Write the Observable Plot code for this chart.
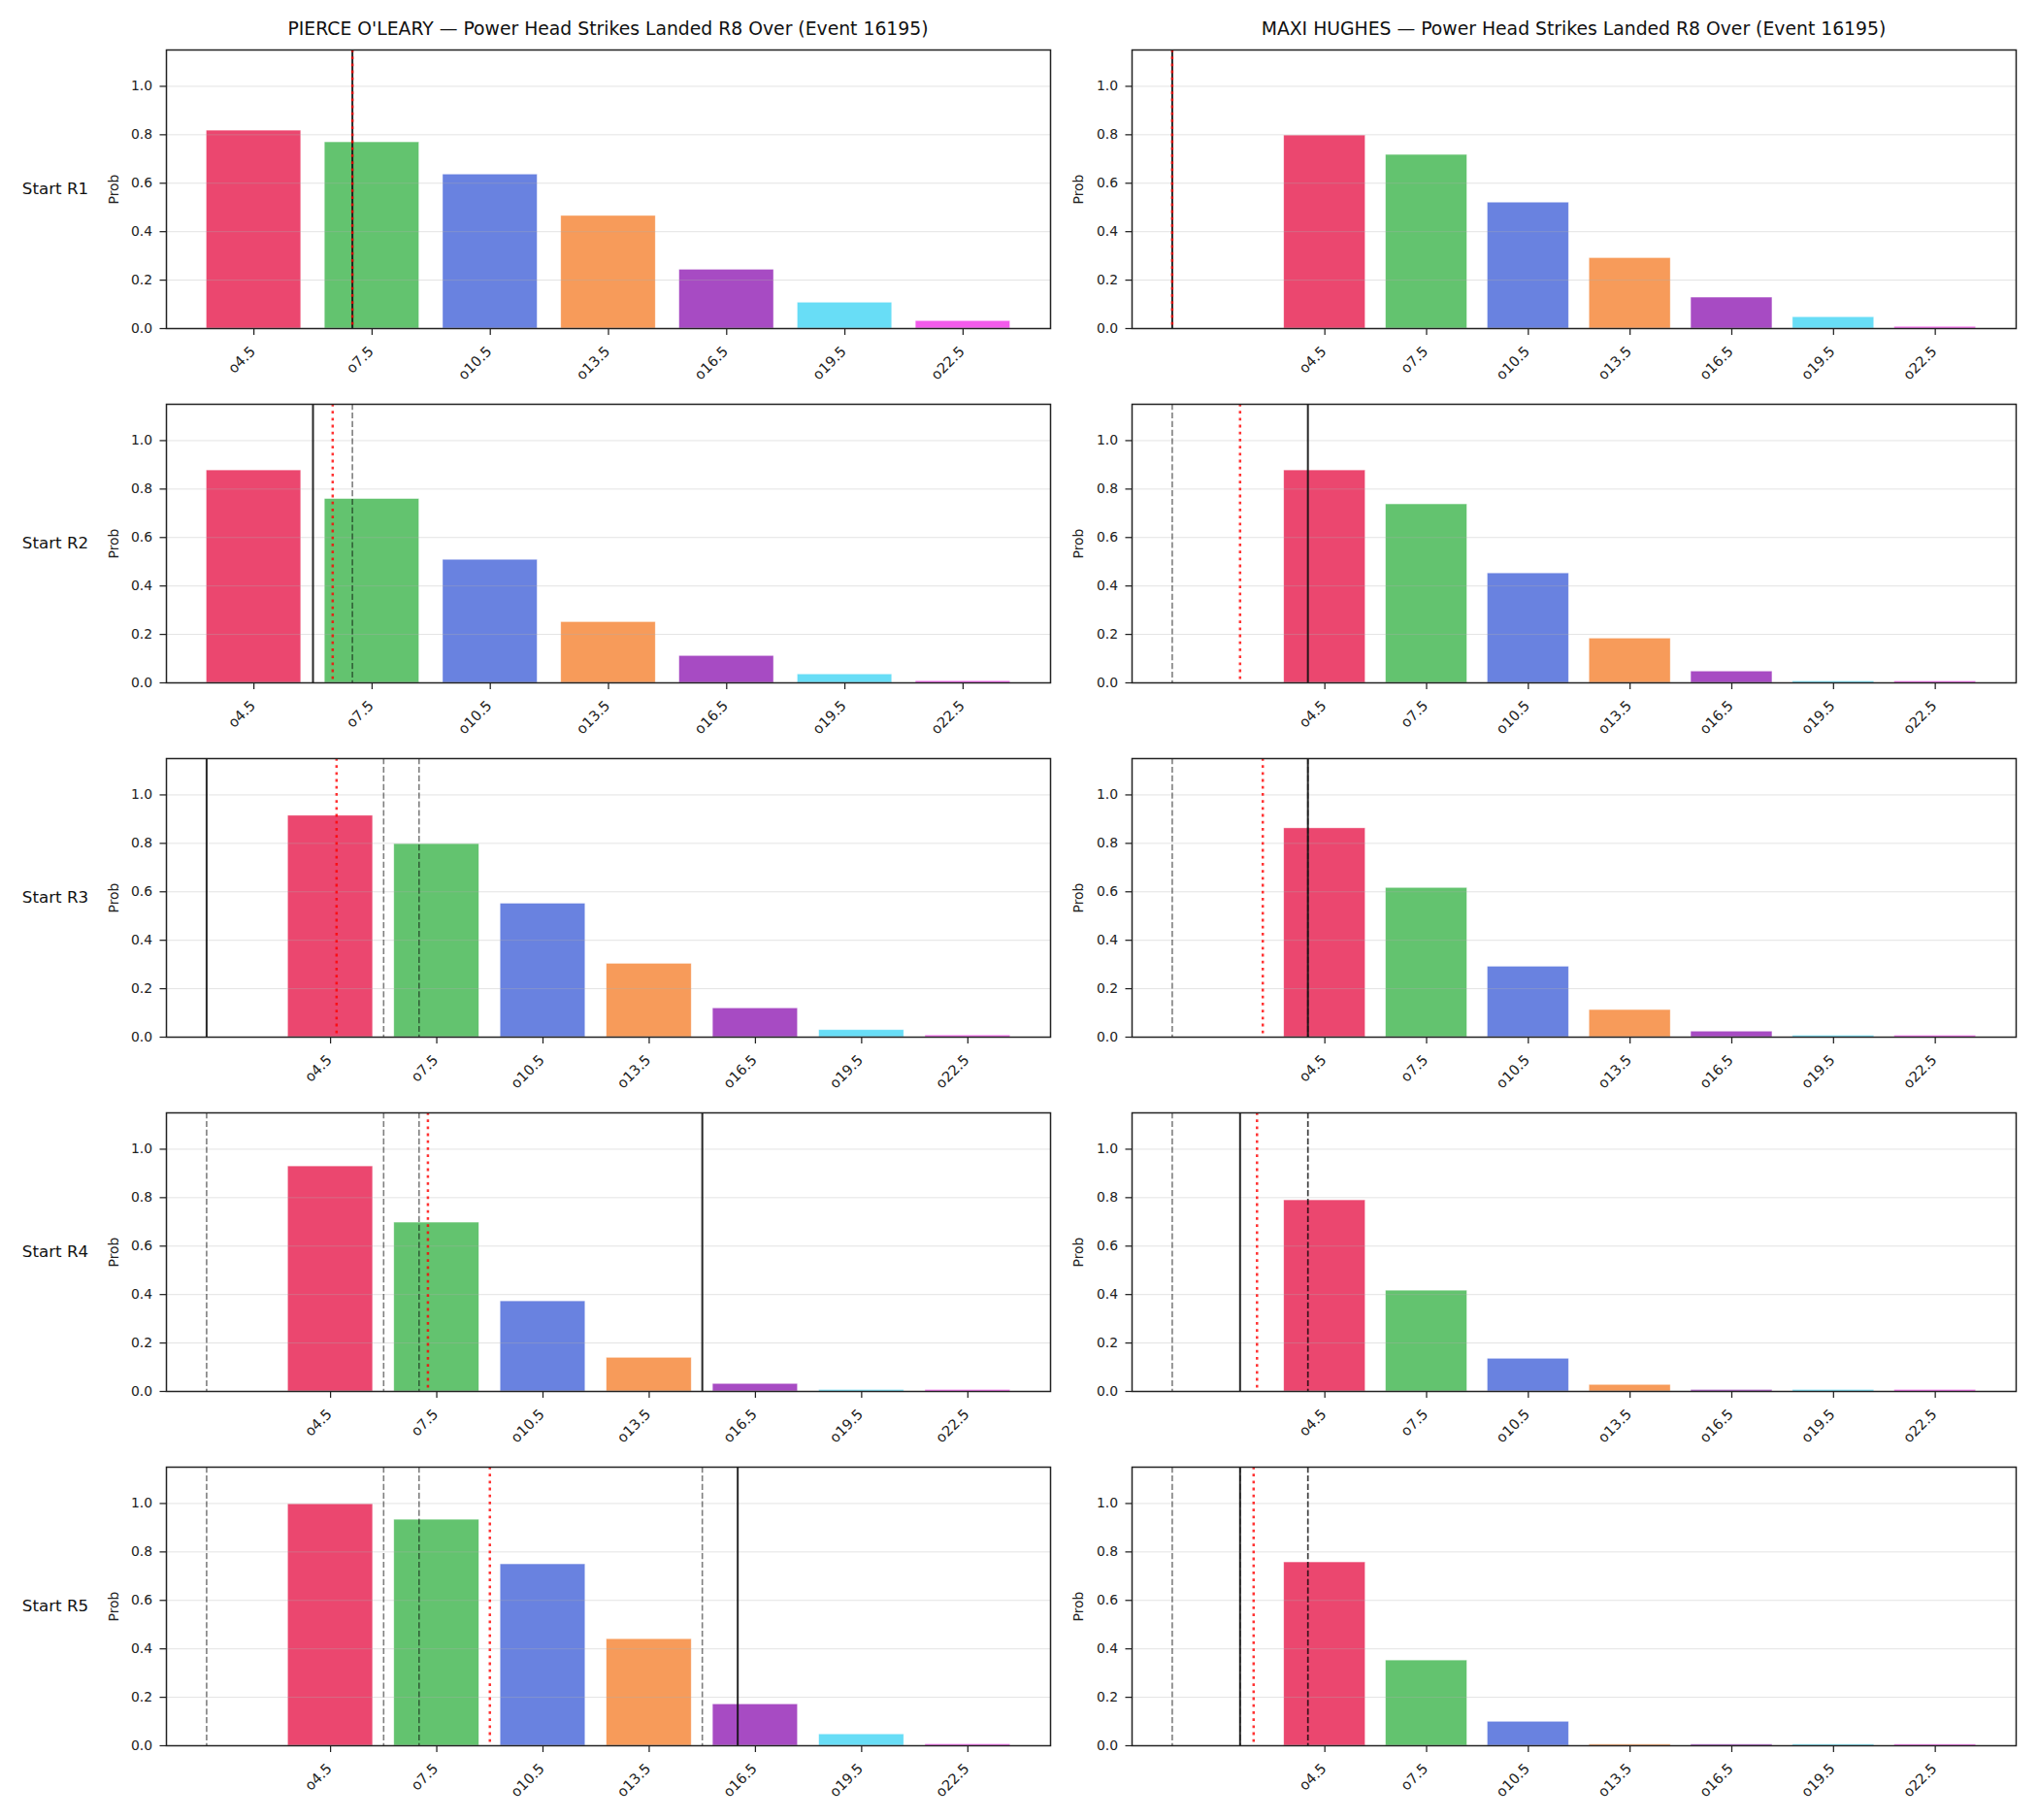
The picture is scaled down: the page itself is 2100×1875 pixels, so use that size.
<!DOCTYPE html>
<html><head><meta charset="utf-8">
<script src="https://cdn.jsdelivr.net/npm/d3@7"></script>
<script src="https://cdn.jsdelivr.net/npm/@observablehq/plot@0.6"></script>
<style>
body{margin:0;background:#fff;font-family:"DejaVu Sans",sans-serif;}
#root{position:relative;width:2100px;height:1875px;background:#fff;}
.title{position:absolute;font-size:18.8px;line-height:1;white-space:nowrap;transform:translateX(-50%);color:#111;}
.panel{position:absolute;}
</style></head><body><div id="root"></div>
<script>
const thresholds = [4.5, 7.5, 10.5, 13.5, 16.5, 19.5, 22.5];
const tickLabels = ["o4.5", "o7.5", "o10.5", "o13.5", "o16.5", "o19.5", "o22.5"];
const barColors = ["#e6194B", "#3cb44b", "#4363d8", "#f58231", "#911eb4", "#42d4f4", "#f032e6"];
const rowLabels = ["Start R1", "Start R2", "Start R3", "Start R4", "Start R5"];
const fighters = ["PIERCE O'LEARY", "MAXI HUGHES"];
const titleSuffix = " — Power Head Strikes Landed R8 Over (Event 16195)";
const yTicks = [0, 0.2, 0.4, 0.6, 0.8, 1.0];

const leftProbs = [
  [0.817, 0.769, 0.636, 0.465, 0.243, 0.107, 0.031],
  [0.877, 0.759, 0.508, 0.251, 0.111, 0.035, 0.007],
  [0.914, 0.797, 0.551, 0.303, 0.119, 0.029, 0.007],
  [0.929, 0.697, 0.372, 0.139, 0.031, 0.006, 0.006],
  [0.997, 0.933, 0.749, 0.440, 0.171, 0.047, 0.006]
];
const rightProbs = [
  [0.797, 0.717, 0.520, 0.291, 0.128, 0.047, 0.007],
  [0.877, 0.737, 0.452, 0.183, 0.047, 0.006, 0.006],
  [0.862, 0.616, 0.291, 0.112, 0.023, 0.006, 0.006],
  [0.789, 0.416, 0.135, 0.027, 0.006, 0.006, 0.006],
  [0.757, 0.352, 0.099, 0.005, 0.005, 0.005, 0.005]
];
const leftCurrent = [7, 6, 1, 15, 16];
const leftAverage = [7, 6.5, 4.67, 7.25, 9.0];
const leftPrior = [[], [7], [7, 6], [7, 6, 1], [7, 6, 1, 15]];
const rightCurrent = [0, 4, 4, 2, 2];
const rightAverage = [0, 2, 2.67, 2.5, 2.4];
const rightPrior = [[], [0], [0, 4], [0, 4, 4], [0, 4, 4, 2]];

const root = document.getElementById("root");
const half = 1.2;

function panel(probs, current, avg, prior, rowLabel, cfg) {
  const bars = thresholds.map((t, i) => ({t, p: probs[i], c: barColors[i]}));
  const xs = [thresholds[0] - half, thresholds[thresholds.length - 1] + half, current, avg, ...prior];
  const lo = Math.min(...xs), hi = Math.max(...xs), pad = 0.05 * (hi - lo);
  const marks = [
    Plot.rect(bars, {x1: d => d.t - half, x2: d => d.t + half, y1: 0, y2: "p", fill: "c", fillOpacity: 0.8, stroke: "white", strokeOpacity: 0.6, strokeWidth: 0.7}),
    Plot.gridY(yTicks, {stroke: "#b0b0b0", strokeOpacity: 0.35, strokeWidth: 1}),
    Plot.ruleX(prior, {stroke: "black", strokeOpacity: 0.5, strokeWidth: 1.6, strokeDasharray: "6.2,2.7"}),
    Plot.ruleX([current], {stroke: "#111", strokeOpacity: 0.9, strokeWidth: 2}),
    Plot.ruleX([avg], {stroke: "red", strokeOpacity: 0.8, strokeWidth: 2.5, strokeDasharray: "2.8,4.4"}),
    Plot.axisY({ticks: yTicks, tickSize: 6.5, tickPadding: 8, tickFormat: d => d.toFixed(1), label: null, fontSize: 13.9, strokeWidth: 1.25, stroke: "#222"}),
    Plot.axisX({ticks: thresholds, tickSize: 7, tickFormat: () => "", label: null, strokeWidth: 1.25, stroke: "#222"}),
    Plot.text(thresholds, {x: d => d, y: 0, text: (d, i) => tickLabels[i], rotate: -45, textAnchor: "end", lineAnchor: "top", dx: -5, dy: 17, fontSize: 14.6, fill: "#222"}),
    Plot.text(["Prob"], {frameAnchor: "left", dx: cfg.probDx, rotate: -90, textAnchor: "middle", fontSize: 13.9, fill: "#222"}),
    Plot.frame({stroke: "#222", strokeWidth: 1.5})
  ];
  if (rowLabel) marks.push(Plot.text([rowLabel], {frameAnchor: "left", dx: -114.5, textAnchor: "middle", fontSize: 16.7, fill: "#111"}));
  return Plot.plot({
    width: cfg.width,
    height: 365,
    marginLeft: cfg.marginLeft,
    marginRight: cfg.marginRight,
    marginTop: 13,
    marginBottom: 65,
    x: {type: "linear", domain: [lo - pad, hi + pad]},
    y: {domain: [0, 1.15]},
    color: {type: "identity"},
    style: {fontFamily: "DejaVu Sans", fontSize: "13.9px", color: "#222", background: "transparent", overflow: "visible"},
    marks
  });
}

const cols = [
  {left: 0, width: 1100, marginLeft: 171, marginRight: 18, probDx: -54.3, probs: leftProbs, cur: leftCurrent, avg: leftAverage, prior: leftPrior, labels: true, titleX: 626.5},
  {left: 1100, width: 1000, marginLeft: 66, marginRight: 23, probDx: -55, probs: rightProbs, cur: rightCurrent, avg: rightAverage, prior: rightPrior, labels: false, titleX: 1621.5}
];

cols.forEach((c, ci) => {
  const t = document.createElement("div");
  t.className = "title";
  t.style.left = c.titleX + "px";
  t.style.top = "21px";
  t.textContent = fighters[ci] + titleSuffix;
  root.appendChild(t);
  for (let r = 0; r < 5; r++) {
    const svg = panel(c.probs[r], c.cur[r], c.avg[r], c.prior[r], c.labels ? rowLabels[r] : null, c);
    const wrap = document.createElement("div");
    wrap.className = "panel";
    wrap.style.left = c.left + "px";
    wrap.style.top = (38 + 365 * r) + "px";
    wrap.appendChild(svg);
    root.appendChild(wrap);
  }
});
</script>
</body></html>
